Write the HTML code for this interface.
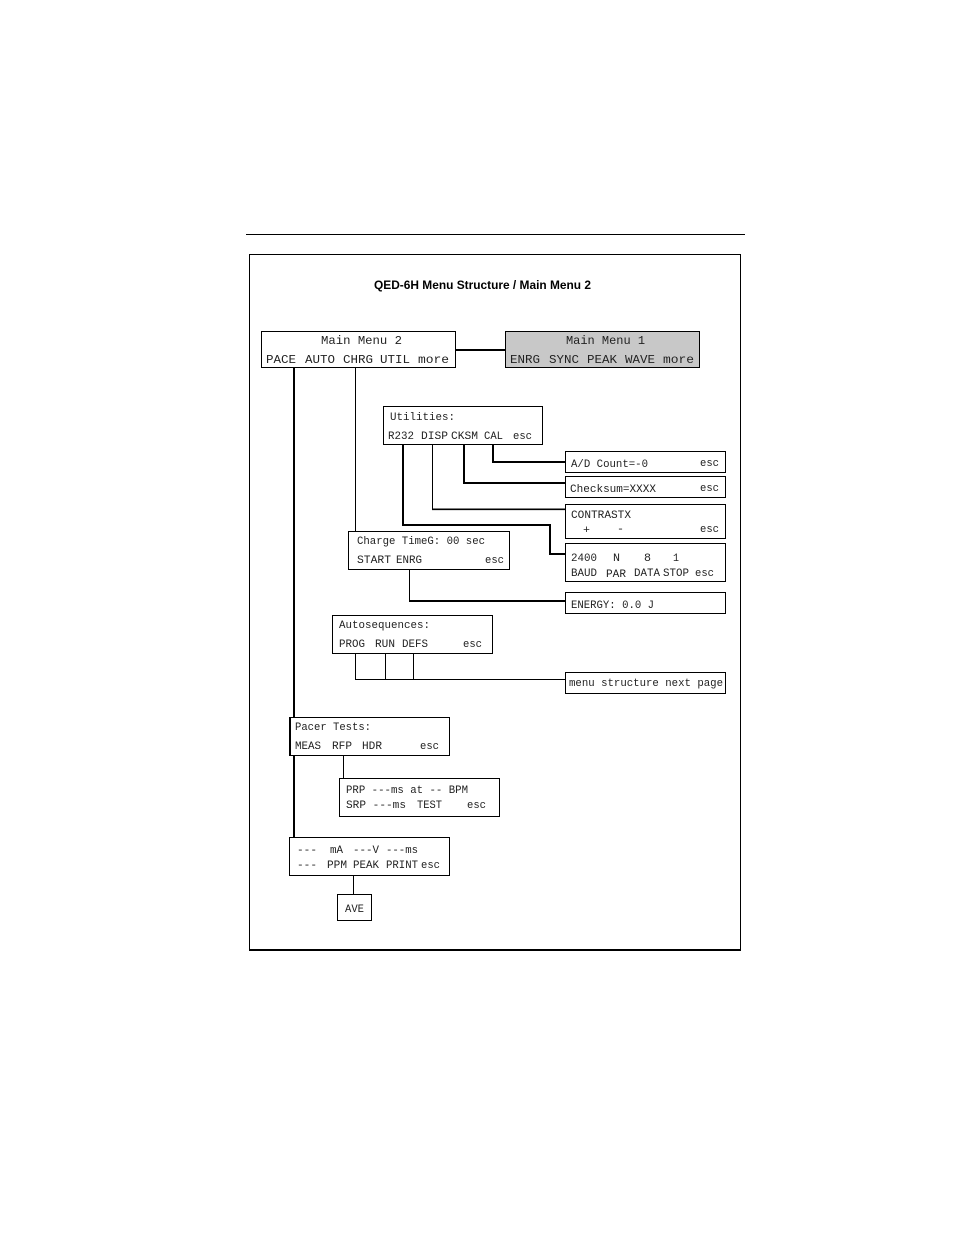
<!DOCTYPE html>
<html><head><meta charset="utf-8"><style>
html,body{margin:0;padding:0;background:#fff}
svg{display:block}
text{font-family:"Liberation Mono",monospace;fill:#222;font-size:11px}
.b{font-size:12.4px}
.t{font-family:"Liberation Sans",sans-serif;font-weight:bold;font-size:12px;fill:#000}
rect{fill:#fff;stroke:#000;stroke-width:1}
path{fill:none;stroke:#000}
</style></head><body>
<svg width="954" height="1235" viewBox="0 0 954 1235" xmlns="http://www.w3.org/2000/svg">
<path d="M246 234.500H745" stroke-width="1"/>
<path d="M249.500 950V254.500H740.500V950" stroke="#333"/>
<path d="M249 950H741" stroke-width="2"/>
<text class="t" x="374" y="289" textLength="217" lengthAdjust="spacingAndGlyphs">QED-6H Menu Structure / Main Menu 2</text>

<!-- connectors -->
<path d="M455 350H506" stroke-width="2"/>
<path d="M294 367V838" stroke-width="2"/>
<path d="M355.500 367V532"/>
<path d="M403 444V525H550V554H566" stroke-width="2"/>
<path d="M432.500 444V509"/>
<path d="M432 509.300H566" stroke-width="1.600"/>
<path d="M464 444V483H566" stroke-width="2"/>
<path d="M493 444V462H566" stroke-width="2"/>
<path d="M409.500 569V601"/>
<path d="M409 601H566" stroke-width="2"/>
<path d="M355.500 653V679.500H566M385.500 653V679.500M413.500 653V679.500"/>
<path d="M343.500 755V779"/>
<path d="M353.500 875V895"/>

<!-- boxes -->
<rect x="261.500" y="331.500" width="194" height="36"/>
<rect x="505.500" y="331.500" width="194" height="36" style="fill:#c8c8c8"/>
<rect x="383.500" y="406.500" width="159" height="38"/>
<rect x="565.500" y="451.500" width="160" height="21"/>
<rect x="565.500" y="476.500" width="160" height="21"/>
<rect x="565.500" y="504.500" width="160" height="34"/>
<rect x="565.500" y="543.500" width="160" height="38"/>
<rect x="348.500" y="531.500" width="161" height="38"/>
<rect x="565.500" y="592.500" width="160" height="21"/>
<rect x="332.500" y="615.500" width="160" height="38"/>
<rect x="565.500" y="672.500" width="160" height="21"/>
<rect x="289.500" y="717.500" width="160" height="38"/>
<rect x="339.500" y="778.500" width="160" height="38"/>
<rect x="289.500" y="837.500" width="160" height="38"/>
<rect x="337.500" y="894.500" width="34" height="26"/>
<path d="M290 717V756" stroke-width="2"/>

<text class="b" x="321" y="344" textLength="81" lengthAdjust="spacingAndGlyphs">Main Menu 2</text>
<text class="b" x="266" y="363" textLength="30" lengthAdjust="spacingAndGlyphs">PACE</text>
<text class="b" x="305" y="363" textLength="30" lengthAdjust="spacingAndGlyphs">AUTO</text>
<text class="b" x="343" y="363" textLength="30" lengthAdjust="spacingAndGlyphs">CHRG</text>
<text class="b" x="380" y="363" textLength="30" lengthAdjust="spacingAndGlyphs">UTIL</text>
<text class="b" x="418" y="363" textLength="31" lengthAdjust="spacingAndGlyphs">more</text>
<text class="b" x="566" y="344" textLength="79" lengthAdjust="spacingAndGlyphs">Main Menu 1</text>
<text class="b" x="510" y="363" textLength="30" lengthAdjust="spacingAndGlyphs">ENRG</text>
<text class="b" x="549" y="363" textLength="30" lengthAdjust="spacingAndGlyphs">SYNC</text>
<text class="b" x="587" y="363" textLength="30" lengthAdjust="spacingAndGlyphs">PEAK</text>
<text class="b" x="625" y="363" textLength="30" lengthAdjust="spacingAndGlyphs">WAVE</text>
<text class="b" x="663" y="363" textLength="31" lengthAdjust="spacingAndGlyphs">more</text>
<text x="390" y="420" textLength="65" lengthAdjust="spacingAndGlyphs">Utilities:</text>
<text x="388" y="439" textLength="26" lengthAdjust="spacingAndGlyphs">R232</text>
<text x="421" y="439" textLength="27" lengthAdjust="spacingAndGlyphs">DISP</text>
<text x="451" y="439" textLength="27" lengthAdjust="spacingAndGlyphs">CKSM</text>
<text x="484" y="439" textLength="19" lengthAdjust="spacingAndGlyphs">CAL</text>
<text x="513" y="439" textLength="19" lengthAdjust="spacingAndGlyphs">esc</text>
<text x="571" y="467" textLength="77" lengthAdjust="spacingAndGlyphs">A/D Count=-0</text>
<text x="700" y="466" textLength="19" lengthAdjust="spacingAndGlyphs">esc</text>
<text x="570" y="492" textLength="86" lengthAdjust="spacingAndGlyphs">Checksum=XXXX</text>
<text x="700" y="491" textLength="19" lengthAdjust="spacingAndGlyphs">esc</text>
<text x="571" y="518" textLength="60" lengthAdjust="spacingAndGlyphs">CONTRASTX</text>
<text x="583" y="533" textLength="7" lengthAdjust="spacingAndGlyphs">+</text>
<text x="617" y="532" textLength="7" lengthAdjust="spacingAndGlyphs">-</text>
<text x="700" y="532" textLength="19" lengthAdjust="spacingAndGlyphs">esc</text>
<text x="571" y="561" textLength="26" lengthAdjust="spacingAndGlyphs">2400</text>
<text x="613" y="561" textLength="7" lengthAdjust="spacingAndGlyphs">N</text>
<text x="644" y="561" textLength="7" lengthAdjust="spacingAndGlyphs">8</text>
<text x="673" y="561" textLength="6" lengthAdjust="spacingAndGlyphs">1</text>
<text x="571" y="576" textLength="26" lengthAdjust="spacingAndGlyphs">BAUD</text>
<text x="606" y="577" textLength="20" lengthAdjust="spacingAndGlyphs">PAR</text>
<text x="634" y="576" textLength="26" lengthAdjust="spacingAndGlyphs">DATA</text>
<text x="663" y="576" textLength="26" lengthAdjust="spacingAndGlyphs">STOP</text>
<text x="695" y="576" textLength="19" lengthAdjust="spacingAndGlyphs">esc</text>
<text x="571" y="608" textLength="83" lengthAdjust="spacingAndGlyphs">ENERGY: 0.0 J</text>
<text x="569" y="686" textLength="154" lengthAdjust="spacingAndGlyphs">menu structure next page</text>
<text x="357" y="544" textLength="128" lengthAdjust="spacingAndGlyphs">Charge TimeG: 00 sec</text>
<text x="357" y="563" textLength="34" lengthAdjust="spacingAndGlyphs">START</text>
<text x="396" y="563" textLength="26" lengthAdjust="spacingAndGlyphs">ENRG</text>
<text x="485" y="563" textLength="19" lengthAdjust="spacingAndGlyphs">esc</text>
<text x="339" y="628" textLength="91" lengthAdjust="spacingAndGlyphs">Autosequences:</text>
<text x="339" y="647" textLength="26" lengthAdjust="spacingAndGlyphs">PROG</text>
<text x="375" y="647" textLength="20" lengthAdjust="spacingAndGlyphs">RUN</text>
<text x="402" y="647" textLength="26" lengthAdjust="spacingAndGlyphs">DEFS</text>
<text x="463" y="647" textLength="19" lengthAdjust="spacingAndGlyphs">esc</text>
<text x="295" y="730" textLength="76" lengthAdjust="spacingAndGlyphs">Pacer Tests:</text>
<text x="295" y="749" textLength="26" lengthAdjust="spacingAndGlyphs">MEAS</text>
<text x="332" y="749" textLength="20" lengthAdjust="spacingAndGlyphs">RFP</text>
<text x="362" y="749" textLength="20" lengthAdjust="spacingAndGlyphs">HDR</text>
<text x="420" y="749" textLength="19" lengthAdjust="spacingAndGlyphs">esc</text>
<text x="346" y="793" textLength="122" lengthAdjust="spacingAndGlyphs">PRP ---ms at -- BPM</text>
<text x="346" y="808" textLength="60" lengthAdjust="spacingAndGlyphs">SRP ---ms</text>
<text x="417" y="808" textLength="25" lengthAdjust="spacingAndGlyphs">TEST</text>
<text x="467" y="808" textLength="19" lengthAdjust="spacingAndGlyphs">esc</text>
<text x="297" y="853" textLength="20" lengthAdjust="spacingAndGlyphs">---</text>
<text x="330" y="853" textLength="13" lengthAdjust="spacingAndGlyphs">mA</text>
<text x="353" y="853" textLength="26" lengthAdjust="spacingAndGlyphs">---V</text>
<text x="386" y="853" textLength="32" lengthAdjust="spacingAndGlyphs">---ms</text>
<text x="297" y="868" textLength="20" lengthAdjust="spacingAndGlyphs">---</text>
<text x="327" y="868" textLength="20" lengthAdjust="spacingAndGlyphs">PPM</text>
<text x="353" y="868" textLength="26" lengthAdjust="spacingAndGlyphs">PEAK</text>
<text x="386" y="868" textLength="32" lengthAdjust="spacingAndGlyphs">PRINT</text>
<text x="421" y="868" textLength="19" lengthAdjust="spacingAndGlyphs">esc</text>
<text x="345" y="912" textLength="19" lengthAdjust="spacingAndGlyphs">AVE</text>
</svg>
</body></html>
